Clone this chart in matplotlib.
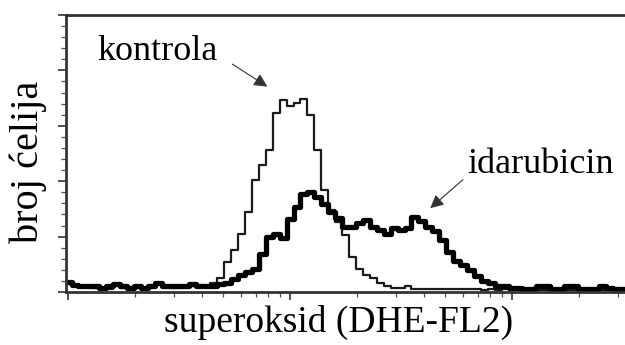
import numpy as np
import matplotlib
matplotlib.use("Agg")
import matplotlib.pyplot as plt
from matplotlib.ticker import MultipleLocator, LogLocator, NullFormatter

plt.rcParams['font.family'] = ['Liberation Serif', 'DejaVu Serif']

# FL2 channels (log amplifier, 64 channels per decade), every second channel
channels = np.arange(0, 162, 2)

kontrola = [
    9, 5, 5, 5, 4, 4, 3, 6, 4, 3,
    4, 4, 5, 7, 5, 4, 4, 5, 5, 6,
    5, 8, 13, 27, 38, 52, 72, 101, 115, 128,
    162, 173, 168, 171, 174, 160, 128, 92, 74, 63,
    51, 32, 21, 15, 13, 8, 5, 4, 4, 5,
    3, 3, 3, 3, 3, 3, 3, 3, 3, 3,
    2, 3, 2, 3, 2, 2, 2, 2, 2, 2,
    2, 2, 2, 2, 2, 2, 2, 2, 2, 2,
    2,
]

idarubicin = [
    9, 6, 5, 5, 5, 4, 5, 7, 5, 4,
    5, 4, 5, 8, 5, 5, 5, 5, 7, 5,
    5, 5, 7, 8, 12, 15, 18, 21, 34, 50,
    52, 49, 66, 77, 88, 90, 86, 79, 72, 67,
    59, 59, 62, 65, 59, 56, 52, 58, 56, 58,
    68, 64, 59, 55, 47, 36, 28, 24, 20, 14,
    10, 8, 5, 5, 4, 4, 3, 3, 5, 5,
    3, 3, 5, 5, 3, 3, 3, 5, 4, 3,
    3,
]

intensity = 10 ** (channels / 64)

fig = plt.figure(figsize=(6.25, 3.45), dpi=100)
ax = fig.add_axes([66 / 625, 53 / 345, 559 / 625, 277 / 345])

ax.plot(intensity, kontrola, drawstyle='steps-mid', color='#1a1a1a', lw=1.6)
ax.plot(intensity, idarubicin, drawstyle='steps-mid', color='black', lw=3.8)

ax.set_xscale('log')
ax.set_xlim(10 ** (-2 / 222), 10 ** (557 / 222))
ax.set_ylim(0, 250)

ax.xaxis.set_major_locator(LogLocator(base=10))
ax.xaxis.set_minor_locator(LogLocator(base=10, subs=np.arange(2, 10)))
ax.xaxis.set_major_formatter(NullFormatter())
ax.xaxis.set_minor_formatter(NullFormatter())
ax.yaxis.set_major_locator(MultipleLocator(50))
ax.yaxis.set_minor_locator(MultipleLocator(10))
ax.yaxis.set_major_formatter(NullFormatter())

ax.tick_params(which='major', direction='out', length=6, width=1.2, color='#333')
ax.tick_params(which='minor', direction='out', length=3.5, width=0.9, color='#555')
ax.tick_params(axis='y', which='both', right=False)
ax.tick_params(axis='x', which='both', top=False)

for side in ['left', 'bottom', 'top']:
    ax.spines[side].set_linewidth(2)
    ax.spines[side].set_color('#333')
ax.spines['right'].set_visible(False)

ax.text(1.35, 209, 'kontrola', fontsize=26, ha='left', va='baseline')
ax.annotate('', xy=(8.1, 184), xytext=(5.37, 207),
            arrowprops=dict(arrowstyle='-|>', color='#333', lw=0.8, mutation_scale=20))

ax.text(62.7, 107, 'idarubicin', fontsize=26, ha='left', va='baseline')
ax.annotate('', xy=(41.9, 74), xytext=(61.4, 103),
            arrowprops=dict(arrowstyle='-|>', color='#333', lw=0.8, mutation_scale=20))

fig.text(28 / 625, 1 - 162 / 345, 'broj ćelija', fontsize=29, rotation=90,
         ha='center', va='center')
fig.text(339 / 625, 13 / 345, 'superoksid (DHE-FL2)', fontsize=27,
         ha='center', va='baseline')

fig.savefig('out.png', dpi=100)
